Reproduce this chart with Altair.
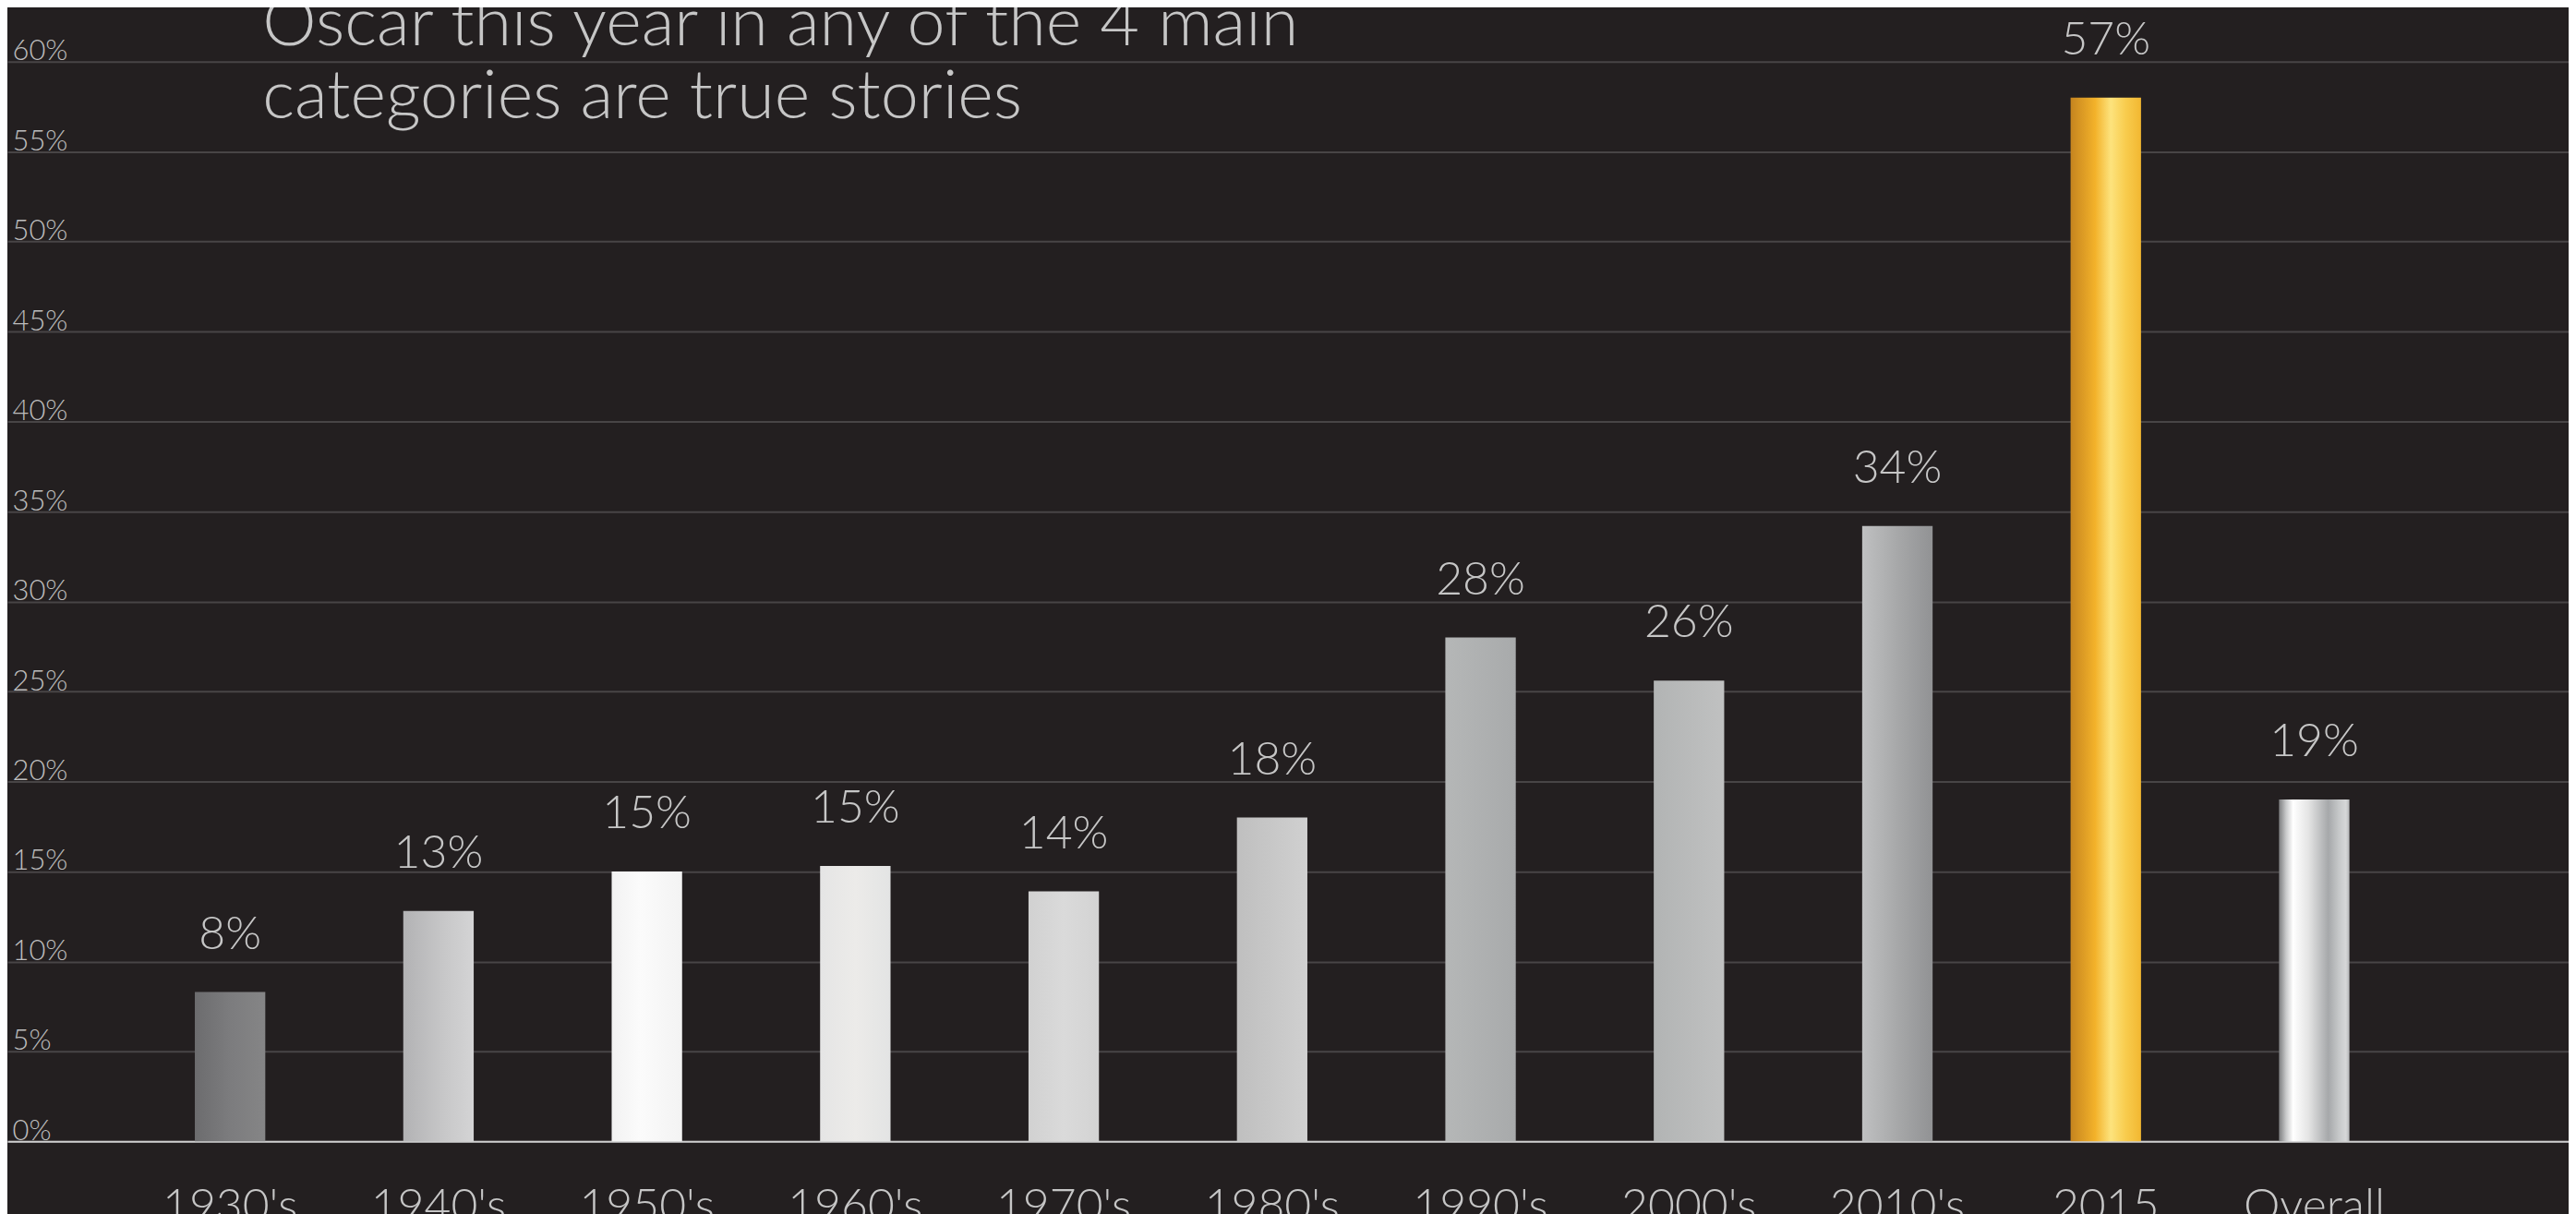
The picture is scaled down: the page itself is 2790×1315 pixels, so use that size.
import altair as alt
import pandas as pd

# ---- data ----
decades = ["1930's", "1940's", "1950's", "1960's", "1970's", "1980's",
           "1990's", "2000's", "2010's", "2015", "Overall"]
shares = [8.3, 12.8, 15.0, 15.3, 13.9, 18.0, 28.0, 25.6, 34.2, 58.0, 19.0]
share_labels = ["8%", "13%", "15%", "15%", "14%", "18%", "28%", "26%",
                "34%", "57%", "19%"]
y_ticks = [0, 5, 10, 15, 20, 25, 30, 35, 40, 45, 50, 55, 60]
title_lines = ["Oscar this year in any of the 4 main",
               "categories are true stories"]

# ---- styles (per-bar horizontal gradients) ----
gradient_stops = {
    "1930's": [(0, "#6c6c6e"), (0.5, "#7c7c7e"), (1, "#858586")],
    "1940's": [(0, "#b2b2b4"), (0.6, "#c8c8c9"), (1, "#d4d4d5")],
    "1950's": [(0, "#f2f2f2"), (0.4, "#fbfbfb"), (1, "#f3f3f3")],
    "1960's": [(0, "#e5e5e5"), (0.5, "#ecebe9"), (1, "#e3e4e4")],
    "1970's": [(0, "#d1d1d1"), (0.5, "#dadada"), (1, "#d3d3d3")],
    "1980's": [(0, "#bfbfbf"), (1, "#d0d0d0")],
    "1990's": [(0, "#b5b7b7"), (1, "#a8aaab")],
    "2000's": [(0, "#b2b4b4"), (1, "#c0c1c1")],
    "2010's": [(0, "#bfc0c1"), (0.5, "#a7a8a9"), (1, "#919294")],
    "2015": [(0, "#c5841f"), (0.35, "#f3b22a"), (0.57, "#fde37d"),
             (0.78, "#f8cc4e"), (1, "#f2b731")],
    "Overall": [(0, "#7c7d7f"), (0.1, "#c8c9ca"), (0.2, "#ffffff"),
                (0.42, "#e4e4e4"), (0.7, "#a6a8aa"), (0.85, "#c6c8c9"),
                (0.95, "#d6d7d8"), (1, "#b4b5b7")],
}

BG = "#231f20"
TEXT = "#c6c6c6"
FONT = "Lato"

df = pd.DataFrame({"decade": decades, "share": shares, "label": share_labels})
title_df = pd.DataFrame({"k": [0]})

x_enc = alt.X(
    "decade:N",
    sort=decades,
    scale=alt.Scale(paddingInner=0.662, paddingOuter=0.9755, align=0.461),
    axis=alt.Axis(
        title=None, labelAngle=0, ticks=False, tickSize=0, grid=False,
        domain=True, domainColor="#cfcfcf", domainWidth=2,
        labelPadding=46, labelFontSize=50, labelFont=FONT, labelFontWeight=300,
        labelColor=TEXT, labelBaseline="top",
    ),
)
y_enc = alt.Y(
    "share:Q",
    scale=alt.Scale(domain=[0, 60], nice=False, zero=True),
    axis=alt.Axis(
        title=None, values=y_ticks, labelExpr="datum.value + '%'",
        ticks=False, tickSize=0, domain=False, grid=True,
        gridColor="#484546", gridWidth=2,
        labelAlign="left", labelBaseline="alphabetic", labelPadding=-5,
        labelOffset=-2, labelFlush=False, labelOverlap=False,
        labelFontSize=31, labelFont=FONT, labelFontWeight=300, labelColor="#bdbdbd",
    ),
)

base = alt.Chart(df)

layers = []
for d in decades:
    grad = alt.Gradient(
        gradient="linear", x1=0, x2=1, y1=0, y2=0,
        stops=[alt.GradientStop(offset=o, color=c) for o, c in gradient_stops[d]],
    )
    layers.append(
        base.transform_filter(alt.datum.decade == d)
        .mark_bar(color=grad)
        .encode(x=x_enc, y=y_enc)
    )

labels = base.mark_text(
    dy=-47, baseline="alphabetic", align="center",
    fontSize=50, font=FONT, fontWeight=300, color=TEXT,
).encode(x=x_enc, y=y_enc, text="label:N")

title = alt.Chart(title_df).mark_text(
    text=title_lines, align="left", baseline="alphabetic",
    fontSize=74, font=FONT, fontWeight=300, color=TEXT, lineHeight=79,
).encode(x=alt.value(277), y=alt.value(-18))

chart = alt.layer(*layers, labels, title).properties(
    width=2782,
    height=1173,
    autosize=alt.AutoSizeParams(type="none"),
    padding={"left": 0, "top": 57, "right": 0, "bottom": 85},
).configure(background=BG).configure_view(stroke=None)

chart.save("out.html", embed_options={"renderer": "svg", "actions": False})
